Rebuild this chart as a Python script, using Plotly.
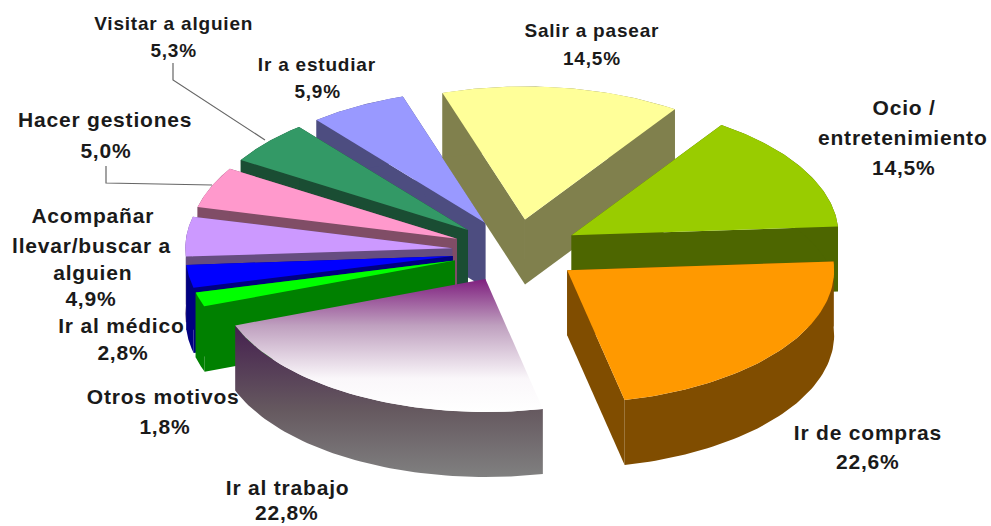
import numpy as np
import plotly.graph_objects as go

# ---- data (clockwise from the first slice) ----
categories = ["Salir a pasear", "Ocio / entretenimiento", "Ir de compras", "Ir al trabajo",
              "Otros motivos", "Ir al médico", "Acompañar llevar/buscar a alguien",
              "Hacer gestiones", "Visitar a alguien", "Ir a estudiar"]
values = [14.5, 14.5, 22.6, 22.8, 1.8, 2.8, 4.9, 5.0, 5.3, 5.9]
top_colors = ["#FFFF99", "#99CC00", "#FF9900", None, "#00FF00", "#0000FF",
              "#CC99FF", "#FF99CC", "#339966", "#9999FF"]
wall_colors = ["#80804D", "#4D6600", "#804D00", None, "#008000", "#000080",
               "#664D80", "#804D66", "#1A4D33", "#4D4D80"]
label_lines = [["Salir a pasear"], ["Ocio /", "entretenimiento"], ["Ir de compras"], ["Ir al trabajo"],
               ["Otros motivos"], ["Ir al médico"], ["Acompañar", "llevar/buscar a", "alguien"],
               ["Hacer gestiones"], ["Visitar a alguien"], ["Ir a estudiar"]]
label_sizes = [19, 21, 21, 21, 21, 21, 21, 21, 19, 19]

# ---- drawing style of the tilted, exploded pie (pixel-scaled axes) ----
CX, CY, RX, RY = 516, 251, 267, 133
EXPLODE, DEPTH, START_DEG = 64, 65, -18.0
PAINT_ORDER = [9, 0, 1, 2, 8, 7, 6, 5, 4, 3]
GRADIENT_SLICE = 3
LABEL_XY = [
    [(592, 30), (592, 58)],
    [(904, 107), (903, 137), (904, 167)],
    [(868, 432), (868, 461)],
    [(287, 487), (287, 512)],
    [(163, 396), (165, 426)],
    [(121, 325), (123, 352)],
    [(93, 215), (91, 245), (93, 272), (91, 298)],
    [(105, 119), (106, 150)],
    [(173, 23), (173, 50)],
    [(317, 64), (317, 91)],
]
LEADERS = [[(173, 63), (173, 80), (265, 140)], [(106, 166), (106, 183), (212, 185)]]

fig = go.Figure()


def ellipse(theta):
    return RX * np.sin(theta), -RY * np.cos(theta)


def poly(x, y, color=None, gradient=None):
    kw = dict(fillgradient=gradient) if gradient else dict(fillcolor=color)
    fig.add_trace(go.Scatter(x=x, y=y, mode="lines", fill="toself", line=dict(width=0),
                             hoverinfo="skip", showlegend=False, **kw))


shares = np.array(values) / sum(values) * 2 * np.pi
starts = np.radians(START_DEG) + np.concatenate([[0], np.cumsum(shares)[:-1]])

for i in PAINT_ORDER:
    t = np.linspace(starts[i], starts[i] + shares[i], 60)
    mid = starts[i] + shares[i] / 2
    ax = CX + EXPLODE * np.sin(mid)
    ay = CY - EXPLODE * RY / RX * np.cos(mid)
    ex, ey = ellipse(t)
    ax_arc, ay_arc = ax + ex, ay + ey

    # walls: both radial cuts and the outer rim
    wall_sets = [
        (np.array([ax, ax_arc[0], ax_arc[0], ax]), np.array([ay, ay_arc[0], ay_arc[0] + DEPTH, ay + DEPTH])),
        (np.array([ax, ax_arc[-1], ax_arc[-1], ax]), np.array([ay, ay_arc[-1], ay_arc[-1] + DEPTH, ay + DEPTH])),
        (np.concatenate([ax_arc, ax_arc[::-1]]), np.concatenate([ay_arc, ay_arc[::-1] + DEPTH])),
    ]
    if i == GRADIENT_SLICE:
        wx, wy = wall_sets[2]
        poly(wx, wy, gradient=dict(type="vertical",
                                   colorscale=[[0, "#808080"], [0.45, "#65585F"], [1, "#45204F"]]))
        poly(np.r_[ax, ax_arc], np.r_[ay, ay_arc],
             gradient=dict(type="vertical",
                           colorscale=[[0, "#FFFFFF"], [0.25, "#FAF7FA"], [0.65, "#BFA0BF"], [1, "#7F1F7F"]]))
    else:
        for wx, wy in wall_sets:
            poly(wx, wy, wall_colors[i])
        poly(np.r_[ax, ax_arc], np.r_[ay, ay_arc], top_colors[i])

# leaders
for pts in LEADERS:
    fig.add_trace(go.Scatter(x=[p[0] for p in pts], y=[p[1] for p in pts], mode="lines",
                             line=dict(color="#666666", width=1.2), hoverinfo="skip", showlegend=False))

# labels
for i, lines in enumerate(label_lines):
    pct = f"{values[i]:.1f}%".replace(".", ",")
    for text, (lx, ly) in zip(lines + [pct], LABEL_XY[i]):
        fig.add_annotation(x=lx, y=ly, text=text, showarrow=False, xanchor="center", yanchor="middle",
                           font=dict(family="Liberation Sans", size=label_sizes[i], color="#1A1A1A", weight="bold"))

fig.update_layout(width=991, height=526, margin=dict(l=0, r=0, t=0, b=0), autosize=False,
                  plot_bgcolor="white", paper_bgcolor="white", showlegend=False,
                  xaxis=dict(range=[0, 991], visible=False, fixedrange=True),
                  yaxis=dict(range=[526, 0], visible=False, fixedrange=True))
fig.write_html("out.html", config=dict(displayModeBar=False),
               post_script="document.body.style.margin='0';document.documentElement.style.overflow='hidden';"
                           "var s=document.createElement('style');"
                           "s.textContent='.annotation-text{letter-spacing:0.8px}';"
                           "document.head.appendChild(s);")
